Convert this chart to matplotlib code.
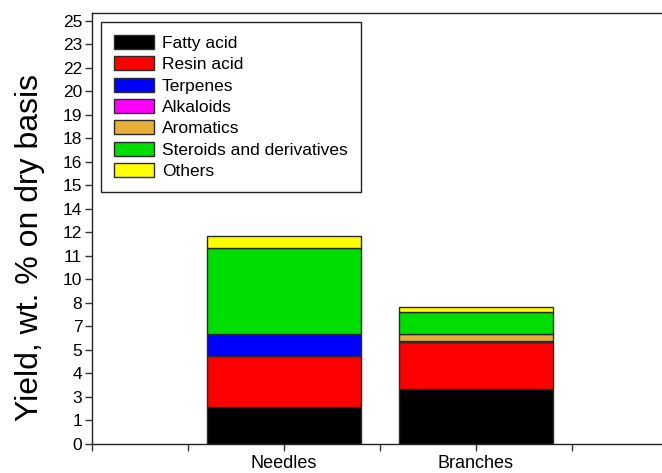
import numpy as np
import matplotlib
matplotlib.use("Agg")
import matplotlib.pyplot as plt

plt.rcParams['font.family'] = ['Liberation Sans', 'DejaVu Sans']

samples = ["Needles", "Branches"]
components = ["Fatty acid", "Resin acid", "Terpenes", "Alkaloids",
              "Aromatics", "Steroids and derivatives", "Others"]
fatty_acid = [2.16, 3.19]
resin_acid = [2.93, 2.71]
terpenes = [1.29, 0.10]
alkaloids = [0.0, 0.0]
aromatics = [0.0, 0.39]
steroids = [4.97, 1.24]
others = [0.71, 0.33]
colors = ["#000000", "#FF0000", "#0000FF", "#FF00FF",
          "#E5AE38", "#00DD00", "#FFFF00"]

# y-axis: 19 evenly spaced ticks, labelled with rounded values
y_tick_top = 24.55
y_ticks = np.linspace(0, y_tick_top, 19)
y_tick_labels = [str(int(round(v))) for v in y_ticks]

series = [fatty_acid, resin_acid, terpenes, alkaloids, aromatics, steroids, others]

fig = plt.figure(figsize=(6.62, 4.73), dpi=100)
ax = fig.add_axes([0.139, 0.0613, 0.861, 0.9112])

x = np.array([1.0, 2.0])
bottom = np.zeros(len(samples))
for name, vals, c in zip(components, series, colors):
    vals = np.array(vals)
    ax.bar(x, vals, width=0.8, bottom=bottom, color=c,
           edgecolor="#2b2b2b", linewidth=1.0, label=name)
    bottom += vals

ax.set_xlim(0, 2.97)
ax.set_ylim(0, 25)
ax.set_xticks([1, 2])
ax.set_xticklabels(samples, fontsize=13)
ax.set_xticks([0, 0.5, 1.5, 2.5], minor=True)
ax.tick_params(axis='x', which='both', direction='out', length=5, width=1,
               color='#333333', pad=3)
ax.set_yticks(y_ticks)
ax.set_yticklabels(y_tick_labels, fontsize=12.5)
ax.tick_params(axis='y', direction='out', length=5, width=1,
               color='#333333', pad=2)

for side in ("left", "bottom", "top"):
    ax.spines[side].set_linewidth(1.0)
    ax.spines[side].set_color("#222222")
ax.spines["right"].set_visible(False)

ax.set_ylabel("Yield, wt. % on dry basis", fontsize=23)
ax.yaxis.set_label_coords(-0.082, 0.457)

leg = ax.legend(loc="upper left", bbox_to_anchor=(0.0158, 0.979),
                borderaxespad=0, fontsize=12.5, handlelength=2.3,
                handleheight=0.85, handletextpad=0.45, labelspacing=0.31,
                borderpad=0.75, fancybox=False, framealpha=1,
                edgecolor="#222222")
leg.get_frame().set_linewidth(1.0)
leg.get_frame().set_boxstyle("square", pad=0)

fig.savefig("out.png", dpi=100)
